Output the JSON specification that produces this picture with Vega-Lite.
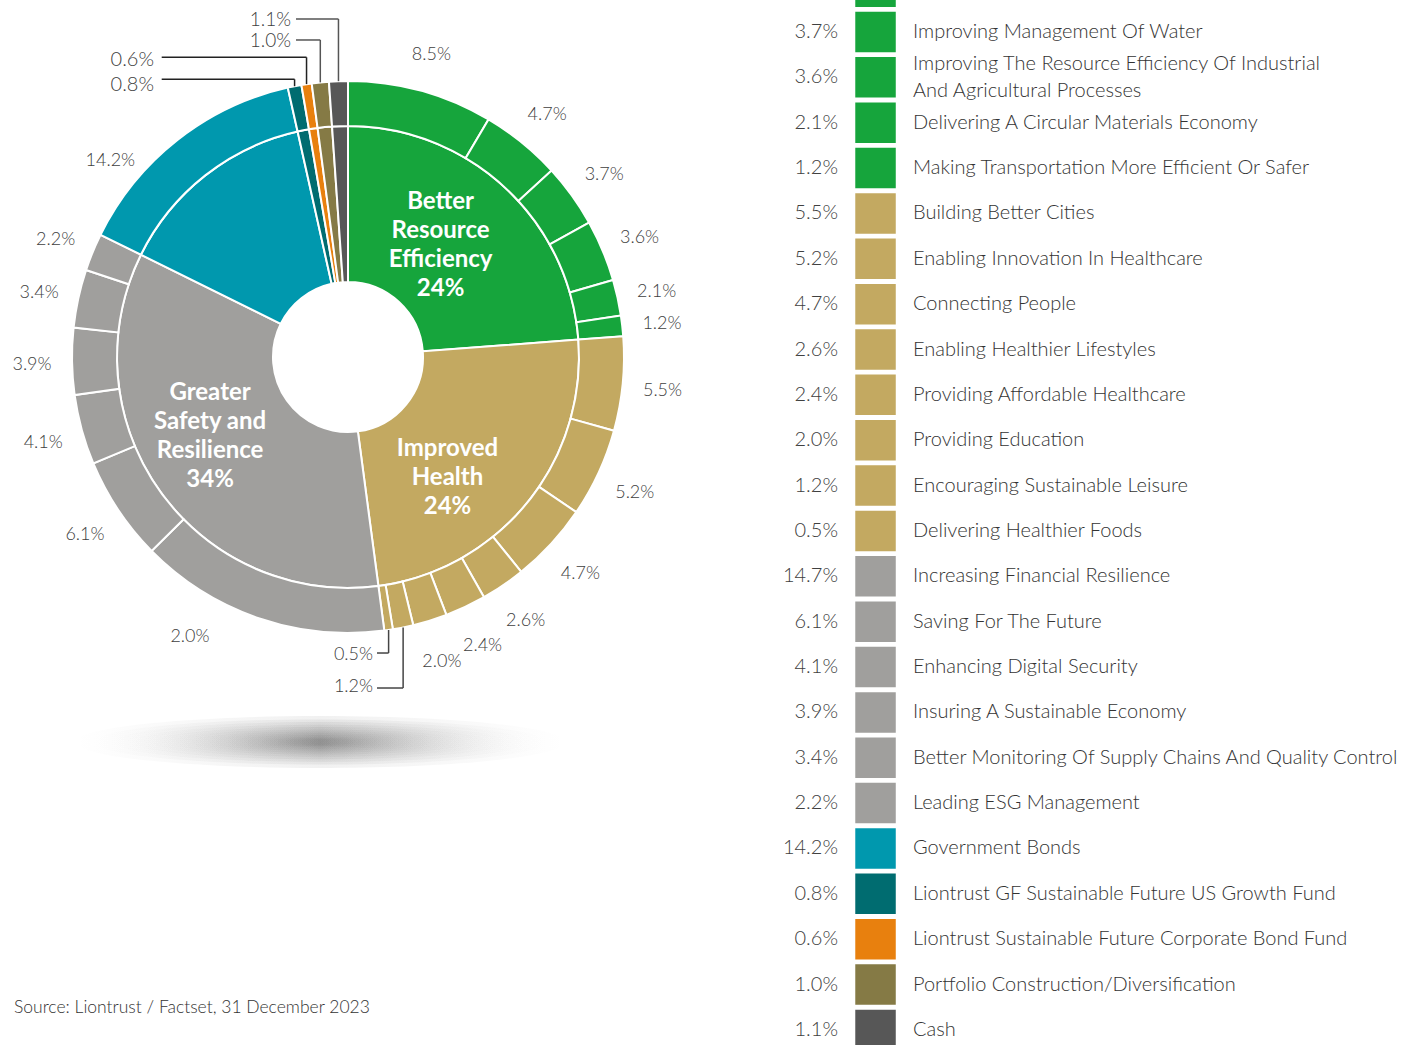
{
  "$schema": "https://vega.github.io/schema/vega-lite/v6.json",
  "padding": 0,
  "spacing": 0,
  "config": {"view": {"stroke": null}, "font": "Lato", "concat": {"spacing": 0}},
  "datasets": {
    "items": [
      {"theme": "Better Resource Efficiency", "item": "Increasing Electricity Generation From Cleaner Sources", "value": 8.5, "pieLabel": "8.5%"},
      {"theme": "Better Resource Efficiency", "item": "Improving The Efficiency Of Energy Use", "value": 4.7, "pieLabel": "4.7%"},
      {"theme": "Better Resource Efficiency", "item": "Improving Management Of Water", "value": 3.7, "pieLabel": "3.7%"},
      {"theme": "Better Resource Efficiency", "item": "Improving The Resource Efficiency Of Industrial\nAnd Agricultural Processes", "value": 3.6, "pieLabel": "3.6%"},
      {"theme": "Better Resource Efficiency", "item": "Delivering A Circular Materials Economy", "value": 2.1, "pieLabel": "2.1%"},
      {"theme": "Better Resource Efficiency", "item": "Making Transportation More Efficient Or Safer", "value": 1.2, "pieLabel": "1.2%"},
      {"theme": "Improved Health", "item": "Building Better Cities", "value": 5.5, "pieLabel": "5.5%"},
      {"theme": "Improved Health", "item": "Enabling Innovation In Healthcare", "value": 5.2, "pieLabel": "5.2%"},
      {"theme": "Improved Health", "item": "Connecting People", "value": 4.7, "pieLabel": "4.7%"},
      {"theme": "Improved Health", "item": "Enabling Healthier Lifestyles", "value": 2.6, "pieLabel": "2.6%"},
      {"theme": "Improved Health", "item": "Providing Affordable Healthcare", "value": 2.4, "pieLabel": "2.4%"},
      {"theme": "Improved Health", "item": "Providing Education", "value": 2.0, "pieLabel": "2.0%"},
      {"theme": "Improved Health", "item": "Encouraging Sustainable Leisure", "value": 1.2, "pieLabel": "1.2%"},
      {"theme": "Improved Health", "item": "Delivering Healthier Foods", "value": 0.5, "pieLabel": "0.5%"},
      {"theme": "Greater Safety and Resilience", "item": "Increasing Financial Resilience", "value": 14.7, "pieLabel": "2.0%"},
      {"theme": "Greater Safety and Resilience", "item": "Saving For The Future", "value": 6.1, "pieLabel": "6.1%"},
      {"theme": "Greater Safety and Resilience", "item": "Enhancing Digital Security", "value": 4.1, "pieLabel": "4.1%"},
      {"theme": "Greater Safety and Resilience", "item": "Insuring A Sustainable Economy", "value": 3.9, "pieLabel": "3.9%"},
      {"theme": "Greater Safety and Resilience", "item": "Better Monitoring Of Supply Chains And Quality Control", "value": 3.4, "pieLabel": "3.4%"},
      {"theme": "Greater Safety and Resilience", "item": "Leading ESG Management", "value": 2.2, "pieLabel": "2.2%"},
      {"theme": "Government Bonds", "item": "Government Bonds", "value": 14.2, "pieLabel": "14.2%"},
      {"theme": "Liontrust GF Sustainable Future US Growth Fund", "item": "Liontrust GF Sustainable Future US Growth Fund", "value": 0.8, "pieLabel": "0.8%"},
      {"theme": "Liontrust Sustainable Future Corporate Bond Fund", "item": "Liontrust Sustainable Future Corporate Bond Fund", "value": 0.6, "pieLabel": "0.6%"},
      {"theme": "Portfolio Construction/Diversification", "item": "Portfolio Construction/Diversification", "value": 1.0, "pieLabel": "1.0%"},
      {"theme": "Cash", "item": "Cash", "value": 1.1, "pieLabel": "1.1%"}
    ]
  },
  "hconcat": [
    {
      "width": 760,
      "height": 1045,
      "data": {"name": "items"},
      "transform": [
        {"window": [{"op": "row_number", "as": "rank"}]},
        {"window": [{"op": "sum", "field": "value", "as": "cum"}], "sort": [{"field": "rank", "order": "ascending"}], "frame": [null, 0]},
        {"calculate": "datum.cum - datum.value", "as": "start"},
        {"calculate": "datum.cum - datum.value / 2", "as": "mid"},
        {"calculate": "sin(datum.mid * 3.141592653589793 / 50)", "as": "ex"},
        {"calculate": "cos(datum.mid * 3.141592653589793 / 50)", "as": "ey"}
      ],
      "layer": [
        {
          "transform": [{"aggregate": [{"op": "min", "field": "start", "as": "s"}, {"op": "max", "field": "cum", "as": "e"}], "groupby": ["theme"]}],
          "mark": {"type": "arc", "radius": 231, "radius2": 75, "stroke": "white", "strokeWidth": 2},
          "encoding": {
            "x": {"datum": 0, "type": "quantitative", "scale": {"domain": [-1.26087, 1.49275], "nice": false, "zero": false}, "axis": null},
            "y": {"datum": 0, "type": "quantitative", "scale": {"domain": [-2.49275, 1.29348], "nice": false, "zero": false}, "axis": null},
            "theta": {"field": "s", "type": "quantitative", "scale": {"domain": [0, 100], "range": [0, 6.283185307179586]}},
            "theta2": {"field": "e"},
            "color": {"field": "theme", "type": "nominal", "legend": null, "scale": {"domain": ["Better Resource Efficiency", "Improved Health", "Greater Safety and Resilience", "Government Bonds", "Liontrust GF Sustainable Future US Growth Fund", "Liontrust Sustainable Future Corporate Bond Fund", "Portfolio Construction/Diversification", "Cash"], "range": ["#16A53C", "#C3A961", "#A09F9D", "#0098AE", "#006C70", "#E8800E", "#857A45", "#575757"]}}
          }
        },
        {
          "mark": {"type": "arc", "radius": 276, "radius2": 231, "stroke": "white", "strokeWidth": 2},
          "encoding": {
            "x": {"datum": 0, "type": "quantitative", "axis": null},
            "y": {"datum": 0, "type": "quantitative", "axis": null},
            "theta": {"field": "start", "type": "quantitative"},
            "theta2": {"field": "cum"},
            "color": {"field": "theme", "type": "nominal", "legend": null}
          }
        },
        {
          "transform": [{"filter": "indexof(['Increasing Financial Resilience', 'Government Bonds', 'Liontrust GF Sustainable Future US Growth Fund', 'Liontrust Sustainable Future Corporate Bond Fund', 'Portfolio Construction/Diversification', 'Cash', 'Delivering Healthier Foods', 'Encouraging Sustainable Leisure'], datum.item) < 0"}],
          "mark": {"type": "text", "radius": 316, "dy": 3, "fontSize": 18, "fontWeight": 300, "color": "#404040", "align": "center", "baseline": "middle"},
          "encoding": {
            "x": {"datum": 0, "type": "quantitative", "axis": null},
            "y": {"datum": 0, "type": "quantitative", "axis": null},
            "theta": {"field": "mid", "type": "quantitative", "stack": null},
            "text": {"field": "pieLabel"}
          }
        },
        {
          "transform": [{"filter": "datum.item === 'Increasing Financial Resilience'"}],
          "mark": {"type": "text", "radius": 315, "dx": -56, "dy": -18, "fontSize": 18, "fontWeight": 300, "color": "#404040", "align": "center", "baseline": "middle"},
          "encoding": {
            "x": {"datum": 0, "type": "quantitative", "axis": null},
            "y": {"datum": 0, "type": "quantitative", "axis": null},
            "theta": {"field": "mid", "type": "quantitative", "stack": null},
            "text": {"field": "pieLabel"}
          }
        },
        {
          "transform": [{"filter": "datum.item === 'Government Bonds'"}],
          "mark": {"type": "text", "radius": 315, "dx": -43, "dy": 52, "fontSize": 18, "fontWeight": 300, "color": "#404040", "align": "center", "baseline": "middle"},
          "encoding": {
            "x": {"datum": 0, "type": "quantitative", "axis": null},
            "y": {"datum": 0, "type": "quantitative", "axis": null},
            "theta": {"field": "mid", "type": "quantitative", "stack": null},
            "text": {"field": "pieLabel"}
          }
        },
        {
          "transform": [
            {"aggregate": [{"op": "sum", "field": "value", "as": "total"}, {"op": "min", "field": "start", "as": "s"}], "groupby": ["theme"]},
            {"calculate": "datum.s + datum.total / 2", "as": "m"},
            {"calculate": "(datum.theme === 'Greater Safety and Resilience' ? 'Greater\\nSafety and\\nResilience' : datum.theme === 'Better Resource Efficiency' ? 'Better\\nResource\\nEfficiency' : 'Improved\\nHealth') + '\\n' + format(datum.total, '.0f') + '%'", "as": "lbl"}
          ],
          "layer": [
            {
              "transform": [{"filter": "datum.theme === 'Better Resource Efficiency'"}],
              "mark": {"type": "text", "radius": 145, "dx": -6, "dy": -49, "fontSize": 24, "fontWeight": 700, "color": "white", "lineBreak": "\n", "lineHeight": 29, "align": "center", "baseline": "middle"},
              "encoding": {"x": {"datum": 0, "type": "quantitative", "axis": null}, "y": {"datum": 0, "type": "quantitative", "axis": null}, "theta": {"field": "m", "type": "quantitative", "stack": null}, "text": {"field": "lbl"}}
            },
            {
              "transform": [{"filter": "datum.theme === 'Improved Health'"}],
              "mark": {"type": "text", "radius": 150, "dx": -17, "dy": -3, "fontSize": 24, "fontWeight": 700, "color": "white", "lineBreak": "\n", "lineHeight": 29, "align": "center", "baseline": "middle"},
              "encoding": {"x": {"datum": 0, "type": "quantitative", "axis": null}, "y": {"datum": 0, "type": "quantitative", "axis": null}, "theta": {"field": "m", "type": "quantitative", "stack": null}, "text": {"field": "lbl"}}
            },
            {
              "transform": [{"filter": "datum.theme === 'Greater Safety and Resilience'"}],
              "mark": {"type": "text", "radius": 150, "dx": -16, "dy": -51, "fontSize": 24, "fontWeight": 700, "color": "white", "lineBreak": "\n", "lineHeight": 29, "align": "center", "baseline": "middle"},
              "encoding": {"x": {"datum": 0, "type": "quantitative", "axis": null}, "y": {"datum": 0, "type": "quantitative", "axis": null}, "theta": {"field": "m", "type": "quantitative", "stack": null}, "text": {"field": "lbl"}}
            }
          ]
        },
        {
          "transform": [{"filter": "datum.item === 'Cash'"}],
          "layer": [
            {"mark": {"type": "rule", "color": "#555555", "strokeWidth": 1.5}, "encoding": {"x": {"field": "ex", "type": "quantitative", "axis": null}, "y": {"field": "ey", "type": "quantitative", "axis": null}, "y2": {"datum": 1.2246}}},
            {"mark": {"type": "rule", "color": "#555555", "strokeWidth": 1.5}, "encoding": {"x": {"field": "ex", "type": "quantitative", "axis": null}, "x2": {"datum": -0.1884}, "y": {"datum": 1.2246, "type": "quantitative", "axis": null}}},
            {"mark": {"type": "text", "align": "right", "baseline": "middle", "fontSize": 19, "fontWeight": 300, "color": "#404040"}, "encoding": {"x": {"datum": -0.2065, "type": "quantitative", "axis": null}, "y": {"datum": 1.2228, "type": "quantitative", "axis": null}, "text": {"field": "pieLabel"}}}
          ]
        },
        {
          "transform": [{"filter": "datum.item === 'Portfolio Construction/Diversification'"}],
          "layer": [
            {"mark": {"type": "rule", "color": "#555555", "strokeWidth": 1.5}, "encoding": {"x": {"field": "ex", "type": "quantitative", "axis": null}, "y": {"field": "ey", "type": "quantitative", "axis": null}, "y2": {"datum": 1.1486}}},
            {"mark": {"type": "rule", "color": "#555555", "strokeWidth": 1.5}, "encoding": {"x": {"field": "ex", "type": "quantitative", "axis": null}, "x2": {"datum": -0.1884}, "y": {"datum": 1.1486, "type": "quantitative", "axis": null}}},
            {"mark": {"type": "text", "align": "right", "baseline": "middle", "fontSize": 19, "fontWeight": 300, "color": "#404040"}, "encoding": {"x": {"datum": -0.2065, "type": "quantitative", "axis": null}, "y": {"datum": 1.1449, "type": "quantitative", "axis": null}, "text": {"field": "pieLabel"}}}
          ]
        },
        {
          "transform": [{"filter": "datum.item === 'Liontrust Sustainable Future Corporate Bond Fund'"}],
          "layer": [
            {"mark": {"type": "rule", "color": "#222222", "strokeWidth": 1.5}, "encoding": {"x": {"field": "ex", "type": "quantitative", "axis": null}, "y": {"field": "ey", "type": "quantitative", "axis": null}, "y2": {"datum": 1.0859}}},
            {"mark": {"type": "rule", "color": "#222222", "strokeWidth": 1.5}, "encoding": {"x": {"field": "ex", "type": "quantitative", "axis": null}, "x2": {"datum": -0.675}, "y": {"datum": 1.0859, "type": "quantitative", "axis": null}}},
            {"mark": {"type": "text", "align": "right", "baseline": "middle", "fontSize": 20, "fontWeight": 300, "color": "#404040"}, "encoding": {"x": {"datum": -0.7029, "type": "quantitative", "axis": null}, "y": {"datum": 1.0761, "type": "quantitative", "axis": null}, "text": {"field": "pieLabel"}}}
          ]
        },
        {
          "transform": [{"filter": "datum.item === 'Liontrust GF Sustainable Future US Growth Fund'"}],
          "layer": [
            {"mark": {"type": "rule", "color": "#222222", "strokeWidth": 1.5}, "encoding": {"x": {"field": "ex", "type": "quantitative", "axis": null}, "y": {"field": "ey", "type": "quantitative", "axis": null}, "y2": {"datum": 1.0062}}},
            {"mark": {"type": "rule", "color": "#222222", "strokeWidth": 1.5}, "encoding": {"x": {"field": "ex", "type": "quantitative", "axis": null}, "x2": {"datum": -0.675}, "y": {"datum": 1.0062, "type": "quantitative", "axis": null}}},
            {"mark": {"type": "text", "align": "right", "baseline": "middle", "fontSize": 20, "fontWeight": 300, "color": "#404040"}, "encoding": {"x": {"datum": -0.7029, "type": "quantitative", "axis": null}, "y": {"datum": 0.9873, "type": "quantitative", "axis": null}, "text": {"field": "pieLabel"}}}
          ]
        },
        {
          "transform": [{"filter": "datum.item === 'Delivering Healthier Foods'"}],
          "layer": [
            {"mark": {"type": "rule", "color": "#444444", "strokeWidth": 1.5}, "encoding": {"x": {"field": "ex", "type": "quantitative", "axis": null}, "y": {"field": "ey", "type": "quantitative", "axis": null}, "y2": {"datum": -1.0725}}},
            {"mark": {"type": "rule", "color": "#444444", "strokeWidth": 1.5}, "encoding": {"x": {"field": "ex", "type": "quantitative", "axis": null}, "x2": {"datum": 0.1051}, "y": {"datum": -1.0725, "type": "quantitative", "axis": null}}},
            {"mark": {"type": "text", "align": "right", "baseline": "middle", "fontSize": 18, "fontWeight": 300, "color": "#404040"}, "encoding": {"x": {"datum": 0.0906, "type": "quantitative", "axis": null}, "y": {"datum": -1.0797, "type": "quantitative", "axis": null}, "text": {"field": "pieLabel"}}}
          ]
        },
        {
          "transform": [{"filter": "datum.item === 'Encouraging Sustainable Leisure'"}],
          "layer": [
            {"mark": {"type": "rule", "color": "#444444", "strokeWidth": 1.5}, "encoding": {"x": {"field": "ex", "type": "quantitative", "axis": null}, "y": {"field": "ey", "type": "quantitative", "axis": null}, "y2": {"datum": -1.1993}}},
            {"mark": {"type": "rule", "color": "#444444", "strokeWidth": 1.5}, "encoding": {"x": {"field": "ex", "type": "quantitative", "axis": null}, "x2": {"datum": 0.1051}, "y": {"datum": -1.1993, "type": "quantitative", "axis": null}}},
            {"mark": {"type": "text", "align": "right", "baseline": "middle", "fontSize": 18, "fontWeight": 300, "color": "#404040"}, "encoding": {"x": {"datum": 0.0906, "type": "quantitative", "axis": null}, "y": {"datum": -1.1957, "type": "quantitative", "axis": null}, "text": {"field": "pieLabel"}}}
          ]
        },
        {
          "data": {"values": [{"shadow": "floor"}]},
          "encoding": {"x": {"datum": -0.1014, "type": "quantitative", "axis": null}, "y": {"datum": -1.3949, "type": "quantitative", "axis": null}},
          "layer": [
            {"mark": {"type": "point", "filled": true, "opacity": 1, "strokeWidth": 0, "size": 240100, "shape": "M -1 0 A 1 0.106 0 1 0 1 0 A 1 0.106 0 1 0 -1 0 Z", "fill": {"gradient": "linear", "x1": 0, "x2": 1, "y1": 0, "y2": 0, "stops": [{"offset": 0, "color": "rgba(90,90,90,0)"}, {"offset": 0.5, "color": "rgba(90,90,90,0.085)"}, {"offset": 1, "color": "rgba(90,90,90,0)"}]}}},
            {"mark": {"type": "point", "filled": true, "opacity": 1, "strokeWidth": 0, "size": 204304, "shape": "M -1 0 A 1 0.1 0 1 0 1 0 A 1 0.1 0 1 0 -1 0 Z", "fill": {"gradient": "linear", "x1": 0, "x2": 1, "y1": 0, "y2": 0, "stops": [{"offset": 0, "color": "rgba(90,90,90,0)"}, {"offset": 0.5, "color": "rgba(90,90,90,0.085)"}, {"offset": 1, "color": "rgba(90,90,90,0)"}]}}},
            {"mark": {"type": "point", "filled": true, "opacity": 1, "strokeWidth": 0, "size": 171396, "shape": "M -1 0 A 1 0.096 0 1 0 1 0 A 1 0.096 0 1 0 -1 0 Z", "fill": {"gradient": "linear", "x1": 0, "x2": 1, "y1": 0, "y2": 0, "stops": [{"offset": 0, "color": "rgba(90,90,90,0)"}, {"offset": 0.5, "color": "rgba(90,90,90,0.085)"}, {"offset": 1, "color": "rgba(90,90,90,0)"}]}}},
            {"mark": {"type": "point", "filled": true, "opacity": 1, "strokeWidth": 0, "size": 141376, "shape": "M -1 0 A 1 0.092 0 1 0 1 0 A 1 0.092 0 1 0 -1 0 Z", "fill": {"gradient": "linear", "x1": 0, "x2": 1, "y1": 0, "y2": 0, "stops": [{"offset": 0, "color": "rgba(90,90,90,0)"}, {"offset": 0.5, "color": "rgba(90,90,90,0.085)"}, {"offset": 1, "color": "rgba(90,90,90,0)"}]}}},
            {"mark": {"type": "point", "filled": true, "opacity": 1, "strokeWidth": 0, "size": 114244, "shape": "M -1 0 A 1 0.088 0 1 0 1 0 A 1 0.088 0 1 0 -1 0 Z", "fill": {"gradient": "linear", "x1": 0, "x2": 1, "y1": 0, "y2": 0, "stops": [{"offset": 0, "color": "rgba(90,90,90,0)"}, {"offset": 0.5, "color": "rgba(90,90,90,0.085)"}, {"offset": 1, "color": "rgba(90,90,90,0)"}]}}},
            {"mark": {"type": "point", "filled": true, "opacity": 1, "strokeWidth": 0, "size": 90000, "shape": "M -1 0 A 1 0.084 0 1 0 1 0 A 1 0.084 0 1 0 -1 0 Z", "fill": {"gradient": "linear", "x1": 0, "x2": 1, "y1": 0, "y2": 0, "stops": [{"offset": 0, "color": "rgba(90,90,90,0)"}, {"offset": 0.5, "color": "rgba(90,90,90,0.085)"}, {"offset": 1, "color": "rgba(90,90,90,0)"}]}}},
            {"mark": {"type": "point", "filled": true, "opacity": 1, "strokeWidth": 0, "size": 69696, "shape": "M -1 0 A 1 0.08 0 1 0 1 0 A 1 0.08 0 1 0 -1 0 Z", "fill": {"gradient": "linear", "x1": 0, "x2": 1, "y1": 0, "y2": 0, "stops": [{"offset": 0, "color": "rgba(90,90,90,0)"}, {"offset": 0.5, "color": "rgba(90,90,90,0.085)"}, {"offset": 1, "color": "rgba(90,90,90,0)"}]}}},
            {"mark": {"type": "point", "filled": true, "opacity": 1, "strokeWidth": 0, "size": 51984, "shape": "M -1 0 A 1 0.076 0 1 0 1 0 A 1 0.076 0 1 0 -1 0 Z", "fill": {"gradient": "linear", "x1": 0, "x2": 1, "y1": 0, "y2": 0, "stops": [{"offset": 0, "color": "rgba(90,90,90,0)"}, {"offset": 0.5, "color": "rgba(90,90,90,0.085)"}, {"offset": 1, "color": "rgba(90,90,90,0)"}]}}},
            {"mark": {"type": "point", "filled": true, "opacity": 1, "strokeWidth": 0, "size": 36864, "shape": "M -1 0 A 1 0.072 0 1 0 1 0 A 1 0.072 0 1 0 -1 0 Z", "fill": {"gradient": "linear", "x1": 0, "x2": 1, "y1": 0, "y2": 0, "stops": [{"offset": 0, "color": "rgba(90,90,90,0)"}, {"offset": 0.5, "color": "rgba(90,90,90,0.085)"}, {"offset": 1, "color": "rgba(90,90,90,0)"}]}}},
            {"mark": {"type": "point", "filled": true, "opacity": 1, "strokeWidth": 0, "size": 24336, "shape": "M -1 0 A 1 0.068 0 1 0 1 0 A 1 0.068 0 1 0 -1 0 Z", "fill": {"gradient": "linear", "x1": 0, "x2": 1, "y1": 0, "y2": 0, "stops": [{"offset": 0, "color": "rgba(90,90,90,0)"}, {"offset": 0.5, "color": "rgba(90,90,90,0.085)"}, {"offset": 1, "color": "rgba(90,90,90,0)"}]}}},
            {"mark": {"type": "point", "filled": true, "opacity": 1, "strokeWidth": 0, "size": 15376, "shape": "M -1 0 A 1 0.064 0 1 0 1 0 A 1 0.064 0 1 0 -1 0 Z", "fill": {"gradient": "linear", "x1": 0, "x2": 1, "y1": 0, "y2": 0, "stops": [{"offset": 0, "color": "rgba(90,90,90,0)"}, {"offset": 0.5, "color": "rgba(90,90,90,0.085)"}, {"offset": 1, "color": "rgba(90,90,90,0)"}]}}},
            {"mark": {"type": "point", "filled": true, "opacity": 1, "strokeWidth": 0, "size": 8100, "shape": "M -1 0 A 1 0.06 0 1 0 1 0 A 1 0.06 0 1 0 -1 0 Z", "fill": {"gradient": "linear", "x1": 0, "x2": 1, "y1": 0, "y2": 0, "stops": [{"offset": 0, "color": "rgba(90,90,90,0)"}, {"offset": 0.5, "color": "rgba(90,90,90,0.085)"}, {"offset": 1, "color": "rgba(90,90,90,0)"}]}}}
          ]
        },
        {
          "data": {"values": [{"source": "Source: Liontrust / Factset, 31 December 2023"}]},
          "mark": {"type": "text", "align": "left", "baseline": "middle", "fontSize": 17.5, "fontWeight": 300, "color": "#333333"},
          "encoding": {"x": {"datum": -1.2101, "type": "quantitative", "axis": null}, "y": {"datum": -2.3587, "type": "quantitative", "axis": null}, "text": {"field": "source"}}
        }
      ]
    },
    {
      "width": 645,
      "height": 1045,
      "data": {"name": "items"},
      "transform": [
        {"window": [{"op": "row_number", "as": "rank"}]},
        {"calculate": "format(datum.value, '.1f') + '%'", "as": "pct"},
        {"calculate": "indexof(datum.item, '\\n') >= 0 ? 1 : 0", "as": "multi"}
      ],
      "layer": [
        {
          "mark": {"type": "text", "align": "right", "baseline": "middle", "fontSize": 20, "fontWeight": 300, "color": "#404040", "clip": true},
          "encoding": {
            "y": {"field": "rank", "type": "quantitative", "scale": {"domain": [2.2945, 25.333], "reverse": true, "nice": false, "zero": false}, "axis": null},
            "x": {"datum": 12.09, "type": "quantitative", "scale": {"domain": [0, 100], "nice": false, "zero": false}, "axis": null},
            "text": {"field": "pct"}
          }
        },
        {
          "mark": {"type": "point", "shape": "square", "filled": true, "opacity": 1, "strokeWidth": 0, "size": 1640, "clip": true},
          "encoding": {
            "y": {"field": "rank", "type": "quantitative", "axis": null},
            "x": {"datum": 17.91, "type": "quantitative", "axis": null},
            "color": {"field": "theme", "type": "nominal", "legend": null, "scale": {"domain": ["Better Resource Efficiency", "Improved Health", "Greater Safety and Resilience", "Government Bonds", "Liontrust GF Sustainable Future US Growth Fund", "Liontrust Sustainable Future Corporate Bond Fund", "Portfolio Construction/Diversification", "Cash"], "range": ["#16A53C", "#C3A961", "#A09F9D", "#0098AE", "#006C70", "#E8800E", "#857A45", "#575757"]}}
          }
        },
        {
          "transform": [{"filter": "datum.multi === 0"}],
          "mark": {"type": "text", "align": "left", "baseline": "middle", "fontSize": 20, "fontWeight": 300, "color": "#333333", "clip": true},
          "encoding": {"y": {"field": "rank", "type": "quantitative", "axis": null}, "x": {"datum": 23.72, "type": "quantitative", "axis": null}, "text": {"field": "item"}}
        },
        {
          "transform": [{"filter": "datum.multi === 1"}],
          "mark": {"type": "text", "align": "left", "baseline": "middle", "dy": -13.5, "fontSize": 20, "fontWeight": 300, "color": "#333333", "lineBreak": "\n", "lineHeight": 27, "clip": true},
          "encoding": {"y": {"field": "rank", "type": "quantitative", "axis": null}, "x": {"datum": 23.72, "type": "quantitative", "axis": null}, "text": {"field": "item"}}
        }
      ]
    }
  ]
}
